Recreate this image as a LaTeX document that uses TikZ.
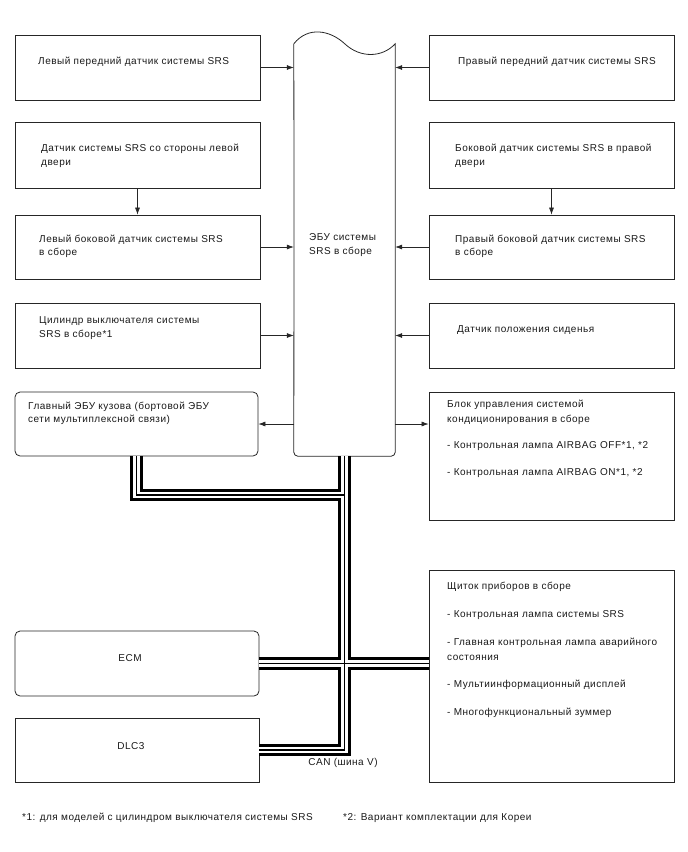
\documentclass[tikz,border=0pt]{standalone}
\usepackage{fontspec}
\setmainfont{Liberation Sans}[LetterSpace=5]
\usetikzlibrary{arrows.meta, positioning}

\begin{document}
\begin{tikzpicture}[
    x=1pt, y=-1pt,
    font=\fontsize{10}{13.5}\selectfont,
    base/.style={draw=black!85, line width=0.8pt, inner sep=0pt,
                 minimum width=245pt},
    unit/.style={base},
    ctrl/.style={base, rounded corners=5pt},
    txt/.style={align=left, inner sep=0pt, anchor=west, text=black!90},
    line/.style={-{Latex[length=7pt, width=5pt]}, line width=0.6pt, draw=black!85},
    canbus/.style={draw=black, line width=12.5pt,
                   postaction={draw=white, line width=6.5pt},
                   postaction={draw=black, line width=1.5pt}},
  ]
  \useasboundingbox (0,0) rectangle (688,852);
  % SRS ECU
  \node[minimum width=101pt, minimum height=412pt, inner sep=0pt] (ecu) at (344.5,250) {};
  \draw[draw=black!85, line width=0.8pt] (ecu.north west)
      .. controls (308,26) and (330,30) .. (345,44)
      .. controls (360,58) and (382,58) .. (ecu.north east)
      [rounded corners=4pt] -- (ecu.south east) -- (ecu.south west) -- (294,200)
      [sharp corners] -- (ecu.north west);
  \node[txt] (ecuT) at (309,245) {ЭБУ системы\\SRS в сборе};
  % Left column
  \node[unit, minimum height=65pt] (lf)    at (137.5,67.5) {};
  \node[unit, minimum height=66pt] (ldoor) at (137.5,155)  {};
  \node[unit, minimum height=64pt] (lside) at (137.5,247)  {};
  \node[unit, minimum height=65pt] (cyl)   at (137.5,335.5){};
  \node[ctrl, minimum width=243pt, minimum height=64pt] (body) at (136.5,424) {};
  \node[ctrl, minimum width=244pt, minimum height=65pt] (ecm)  at (137,663.5) {};
  \node[unit, minimum width=244pt, minimum height=64pt] (dlc)  at (137,750)   {};
  \node[txt] (lfT)    at (38,62)   {Левый передний датчик системы SRS};
  \node[txt] (ldoorT) at (41,156)  {Датчик системы SRS со стороны левой\\двери};
  \node[txt] (lsideT) at (39,246.5){Левый боковой датчик системы SRS\\в сборе};
  \node[txt] (cylT)   at (39,328)  {Цилиндр выключателя системы\\SRS в сборе*1};
  \node[txt] (bodyT)  at (28,413.5){Главный ЭБУ кузова (бортовой ЭБУ\\сети мультиплексной связи)};
  \node[txt, anchor=center] (ecmT) at (130,658) {ECM};
  \node[txt, anchor=center] (dlcT) at (131,746) {DLC3};
  % Right column
  \node[unit, minimum height=65pt]  (rf)    at (551.5,67.5) {};
  \node[unit, minimum height=66pt]  (rdoor) at (551.5,155)  {};
  \node[unit, minimum height=64pt]  (rside) at (551.5,247)  {};
  \node[unit, minimum height=65pt]  (seat)  at (551.5,335.5){};
  \node[unit, minimum height=128pt] (ac)    at (551.5,456)  {};
  \node[unit, minimum height=212pt] (meter) at (551.5,676)  {};
  \node[txt] (rfT)    at (458,62)  {Правый передний датчик системы SRS};
  \node[txt] (rdoorT) at (455,156) {Боковой датчик системы SRS в правой\\двери};
  \node[txt] (rsideT) at (455,246.5){Правый боковой датчик системы SRS\\в сборе};
  \node[txt] (seatT)  at (457,330) {Датчик положения сиденья};
  \node[txt] (acT)    at (447,439) {Блок управления системой\\[2pt]кондиционирования в сборе\\[12pt]
      - Контрольная лампа AIRBAG OFF*1, *2\\[14pt]- Контрольная лампа AIRBAG ON*1, *2};
  \node[txt] (meterT) at (447,650) {Щиток приборов в сборе\\[14pt]- Контрольная лампа системы SRS\\[15pt]
      - Главная контрольная лампа аварийного\\[1pt]состояния\\[14pt]
      - Мультиинформационный дисплей\\[14pt]- Многофункциональный зуммер};
  % arrows
  \draw[line] (lf.east)    -- (ecu.west |- lf.east);
  \draw[line] (lside.east) -- (ecu.west |- lside.east);
  \draw[line] (cyl.east)   -- (ecu.west |- cyl.east);
  \draw[line] (ldoor.south) -- (lside.north);
  \draw[line] (rf.west)    -- (ecu.east |- rf.west);
  \draw[line] (rside.west) -- (ecu.east |- rside.west);
  \draw[line] (seat.west)  -- (ecu.east |- seat.west);
  \draw[line] (rdoor.south) -- (rside.north);
  \draw[line] (ecu.west |- body.east) -- (body.east);
  \draw[line] (ecu.east |- body.east) -- (ac.west |- body.east);
  % CAN bus
  \coordinate (tee) at (344.5,495);
  \draw[canbus] (body.south) |- (tee)
                (ecu.south) -- (ecu.south |- dlc.east) -- (dlc.east)
                (ecm.east) -- (meter.west |- ecm.east);
  \node[txt, anchor=center] (canT) at (343,763) {CAN (шина V)};
  % notes
  \node[txt] (note1) at (22,818)  {*1: для моделей с цилиндром выключателя системы SRS};
  \node[txt] (note2) at (343,818) {*2: Вариант комплектации для Кореи};
\end{tikzpicture}
\end{document}
